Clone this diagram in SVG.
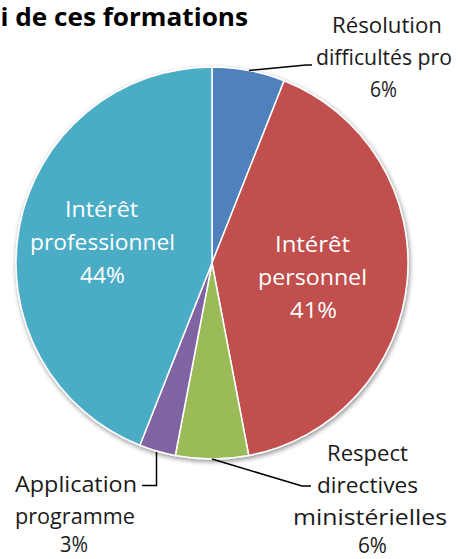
<svg xmlns="http://www.w3.org/2000/svg" width="463" height="559" viewBox="0 0 463 559">
  <style>
    .slice { stroke: #ffffff; stroke-width: 1.5; stroke-linejoin: round; }
    .lbl { font-family: "Open Sans", "Liberation Sans", sans-serif; font-size: 22px; fill: #1a1a1a; }
    .in { font-family: "Open Sans", "Liberation Sans", sans-serif; font-size: 22px; fill: #ffffff; }
    .title { font-family: "Open Sans", "Liberation Sans", sans-serif; font-size: 25px; font-weight: bold; fill: #000000; }
    .leader { fill: none; stroke: #000000; stroke-width: 1.5; }
  </style>
  <defs>
    <filter id="shadow" x="-10%" y="-10%" width="120%" height="120%">
      <feGaussianBlur in="SourceAlpha" stdDeviation="2.5"/>
      <feOffset dx="1" dy="2" result="b"/>
      <feComponentTransfer><feFuncA type="linear" slope="0.45"/></feComponentTransfer>
      <feMerge><feMergeNode/><feMergeNode in="SourceGraphic"/></feMerge>
    </filter>
  </defs>
  <rect width="463" height="559" fill="#ffffff"/>
  <text class="title" x="0.5" y="26" textLength="247.5" lengthAdjust="spacingAndGlyphs">i de ces formations</text>
  <g id="pie" filter="url(#shadow)">
    <g id="slice-resolution"><path class="slice" fill="#4F81BD" d="M212,263 L212,67 A196,196 0 0 1 284.15,80.76 Z"/></g>
    <g id="slice-personnel"><path class="slice" fill="#C0504D" d="M212,263 L284.15,80.76 A196,196 0 0 1 248.73,455.53 Z"/></g>
    <g id="slice-respect"><path class="slice" fill="#9BBB59" d="M212,263 L248.73,455.53 A196,196 0 0 1 175.27,455.53 Z"/></g>
    <g id="slice-application"><path class="slice" fill="#8064A2" d="M212,263 L175.27,455.53 A196,196 0 0 1 139.85,445.24 Z"/></g>
    <g id="slice-professionnel"><path class="slice" fill="#4BACC6" d="M212,263 L139.85,445.24 A196,196 0 0 1 212,67 Z"/></g>
  </g>
  <g id="connectors">
    <polyline class="leader" points="249,70.5 306,65 312,65"/>
    <polyline class="leader" points="212,459 302,486 311,486"/>
    <polyline class="leader" points="156.5,452 156.5,485.5 142,485.5"/>
  </g>
  <g id="label-professionnel">
    <text class="in" x="65" y="217" textLength="73" lengthAdjust="spacingAndGlyphs">Intérêt</text>
    <text class="in" x="30" y="250" textLength="145" lengthAdjust="spacingAndGlyphs">professionnel</text>
    <text class="in" x="80" y="283" textLength="45" lengthAdjust="spacingAndGlyphs">44%</text>
  </g>
  <g id="label-personnel">
    <text class="in" x="275" y="252" textLength="75" lengthAdjust="spacingAndGlyphs">Intérêt</text>
    <text class="in" x="258" y="285" textLength="109" lengthAdjust="spacingAndGlyphs">personnel</text>
    <text class="in" x="290" y="318" textLength="47" lengthAdjust="spacingAndGlyphs">41%</text>
  </g>
  <g id="label-resolution">
    <text class="lbl" x="332" y="33" textLength="110" lengthAdjust="spacingAndGlyphs">Résolution</text>
    <text class="lbl" x="316" y="65" textLength="136" lengthAdjust="spacingAndGlyphs">difficultés pro</text>
    <text class="lbl" x="370" y="97" textLength="27" lengthAdjust="spacingAndGlyphs">6%</text>
  </g>
  <g id="label-respect">
    <text class="lbl" x="327" y="461" textLength="81" lengthAdjust="spacingAndGlyphs">Respect</text>
    <text class="lbl" x="317" y="493" textLength="101" lengthAdjust="spacingAndGlyphs">directives</text>
    <text class="lbl" x="293" y="525" textLength="154" lengthAdjust="spacingAndGlyphs">ministérielles</text>
    <text class="lbl" x="358" y="553" textLength="29" lengthAdjust="spacingAndGlyphs">6%</text>
  </g>
  <g id="label-application">
    <text class="lbl" x="15" y="492" textLength="122" lengthAdjust="spacingAndGlyphs">Application</text>
    <text class="lbl" x="15" y="524" textLength="120" lengthAdjust="spacingAndGlyphs">programme</text>
    <text class="lbl" x="60" y="552" textLength="28" lengthAdjust="spacingAndGlyphs">3%</text>
  </g>
</svg>
